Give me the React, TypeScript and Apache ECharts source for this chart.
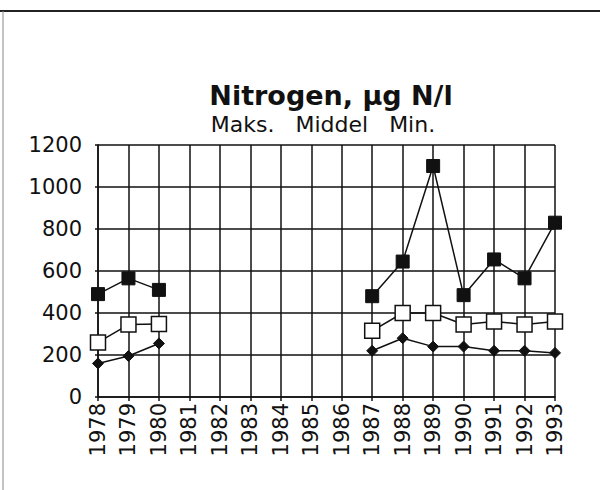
import React, { useEffect, useRef } from "react";
import * as echarts from "echarts";

const years = ["1978","1979","1980","1981","1982","1983","1984","1985","1986","1987","1988","1989","1990","1991","1992","1993"];
const maks = [490, 565, 510, null, null, null, null, null, null, 480, 645, 1100, 485, 655, 565, 830];
const middel = [260, 345, 348, null, null, null, null, null, null, 315, 400, 400, 345, 360, 345, 360];
const minV = [160, 195, 255, null, null, null, null, null, null, 220, 280, 240, 240, 220, 220, 210];
const yTicks = [0, 200, 400, 600, 800, 1000, 1200];

const FONT = "DejaVu Sans";

export default function App() {
  const ref = useRef<HTMLDivElement>(null);
  useEffect(() => {
    if (!ref.current) return;
    const chart = echarts.init(ref.current, null, { renderer: "svg" });
    const lineStyle = { color: "#111", width: 1.5 };
    chart.setOption({
      animation: false,
      backgroundColor: "#fff",
      title: [
        {
          text: "Nitrogen, µg N/l",
          left: 326,
          top: 77,
          textAlign: "center",
          textStyle: { fontFamily: FONT, fontWeight: "bold", fontSize: 27, color: "#111" },
        },
        {
          text: "Maks.   Middel   Min.",
          left: 318,
          top: 108,
          textAlign: "center",
          textStyle: { fontFamily: FONT, fontWeight: "normal", fontSize: 22, color: "#111" },
        },
      ],
      graphic: [
        { type: "line", shape: { x1: 0, y1: 11, x2: 600, y2: 11 }, style: { stroke: "#222", lineWidth: 2 } },
        { type: "line", shape: { x1: 3, y1: 11, x2: 3, y2: 490 }, style: { stroke: "#888", lineWidth: 1 } },
      ],
      grid: { left: 98, right: 45, top: 145, bottom: 93 },
      xAxis: {
        type: "category",
        data: years,
        boundaryGap: false,
        axisLine: { lineStyle: { color: "#111", width: 1.5 } },
        axisTick: { show: true, length: 4, lineStyle: { color: "#111", width: 1.5 } },
        splitLine: { show: true, lineStyle: { color: "#111", width: 1.5 } },
        axisLabel: { rotate: 90, fontFamily: FONT, fontSize: 21, color: "#111", margin: 6 },
      },
      yAxis: {
        type: "value",
        min: yTicks[0],
        max: yTicks[yTicks.length - 1],
        interval: 200,
        axisLine: { show: true, lineStyle: { color: "#111", width: 1.5 } },
        axisTick: { show: true, length: 3, lineStyle: { color: "#111", width: 1.5 } },
        splitLine: { show: true, lineStyle: { color: "#111", width: 1.5 } },
        axisLabel: {
          fontFamily: FONT,
          fontSize: 21,
          color: "#111",
          margin: 16,
          formatter: (v: number) => String(v),
        },
      },
      series: [
        {
          name: "Maks.",
          type: "line",
          data: maks,
          connectNulls: false,
          symbol: "rect",
          symbolSize: 13,
          lineStyle,
          itemStyle: { color: "#111", borderColor: "#111", borderWidth: 1 },
          z: 3,
        },
        {
          name: "Middel",
          type: "line",
          data: middel,
          connectNulls: false,
          symbol: "rect",
          symbolSize: 15,
          lineStyle,
          itemStyle: { color: "#fff", borderColor: "#111", borderWidth: 1.5 },
          z: 4,
        },
        {
          name: "Min.",
          type: "line",
          data: minV,
          connectNulls: false,
          symbol: "diamond",
          symbolSize: 11,
          lineStyle,
          itemStyle: { color: "#111", borderColor: "#111", borderWidth: 1 },
          z: 5,
        },
      ],
    });
    return () => chart.dispose();
  }, []);
  return <div ref={ref} style={{ width: 600, height: 490, position: "absolute", left: 0, top: 0 }} />;
}
